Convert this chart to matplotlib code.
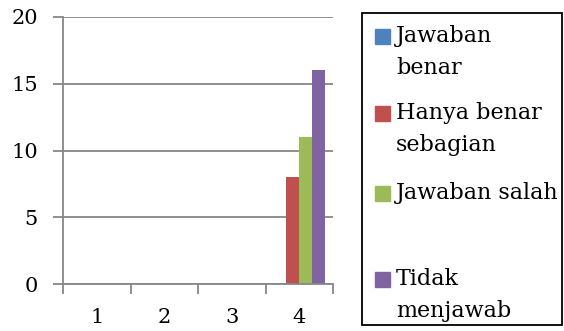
import matplotlib
matplotlib.use("Agg")
import matplotlib.pyplot as plt
from matplotlib.patches import Rectangle
import numpy as np

categories = ["1", "2", "3", "4"]
series_names = ["Jawaban\nbenar", "Hanya benar\nsebagian", "Jawaban salah", "Tidak\nmenjawab"]
jawaban_benar = [0, 0, 0, 0]
hanya_benar_sebagian = [0, 0, 0, 8]
jawaban_salah = [0, 0, 0, 11]
tidak_menjawab = [0, 0, 0, 16]
y_ticks = [0, 5, 10, 15, 20]

colors = ["#4F81BD", "#C0504D", "#9BBB59", "#8064A2"]
series = [jawaban_benar, hanya_benar_sebagian, jawaban_salah, tidak_menjawab]

W, H = 564, 331
fig = plt.figure(figsize=(W / 100, H / 100), dpi=100)
font = "DejaVu Serif"
grid_c = "#878787"

ax = fig.add_axes([63 / W, 1 - 284 / H, (333 - 63) / W, (284 - 17) / H])
x = np.arange(1, len(categories) + 1)
bw = 0.193
for i, (vals, c) in enumerate(zip(series, colors)):
    ax.bar(x + (i - 1.5) * bw, vals, width=bw, color=c, zorder=3)

ax.set_xlim(0.5, 4.5)
ax.set_ylim(0, 20)
ax.set_yticks(y_ticks)
ax.set_yticklabels([str(v) for v in y_ticks], fontfamily=font, fontsize=15)
ax.set_xticks(x)
ax.set_xticklabels(categories, fontfamily=font, fontsize=15)
ax.set_xticks(np.arange(0.5, 4.6, 1.0), minor=True)
ax.tick_params(axis="x", which="major", length=0, pad=17)
ax.tick_params(axis="x", which="minor", length=7, width=1.3, color=grid_c, direction="out")
ax.tick_params(axis="y", length=7, width=1.3, color=grid_c, pad=11)
ax.grid(axis="y", color=grid_c, linewidth=1.3, zorder=0)
for s in ["top", "right"]:
    ax.spines[s].set_visible(False)
for s in ["left", "bottom"]:
    ax.spines[s].set_color(grid_c)
    ax.spines[s].set_linewidth(1.3)
ax.spines["bottom"].set_zorder(4)

# legend box drawn in figure pixel space
fig.patches.append(Rectangle((362 / W, 1 - 325 / H), (562 - 362) / W, (325 - 13) / H,
                             transform=fig.transFigure, fill=False,
                             edgecolor="black", linewidth=1.3))
square_y = [36, 113, 193, 279]
text_top = [25, 102, 182, 268]
for name, c, sy, ty in zip(series_names, colors, square_y, text_top):
    fig.patches.append(Rectangle((375 / W, 1 - (sy + 7.5) / H), 15 / W, 15 / H,
                                 transform=fig.transFigure, color=c))
    fig.text(396 / W, 1 - ty / H, name, fontfamily=font, fontsize=16,
             va="top", ha="left", linespacing=1.6)

fig.savefig("out.png", dpi=100)
